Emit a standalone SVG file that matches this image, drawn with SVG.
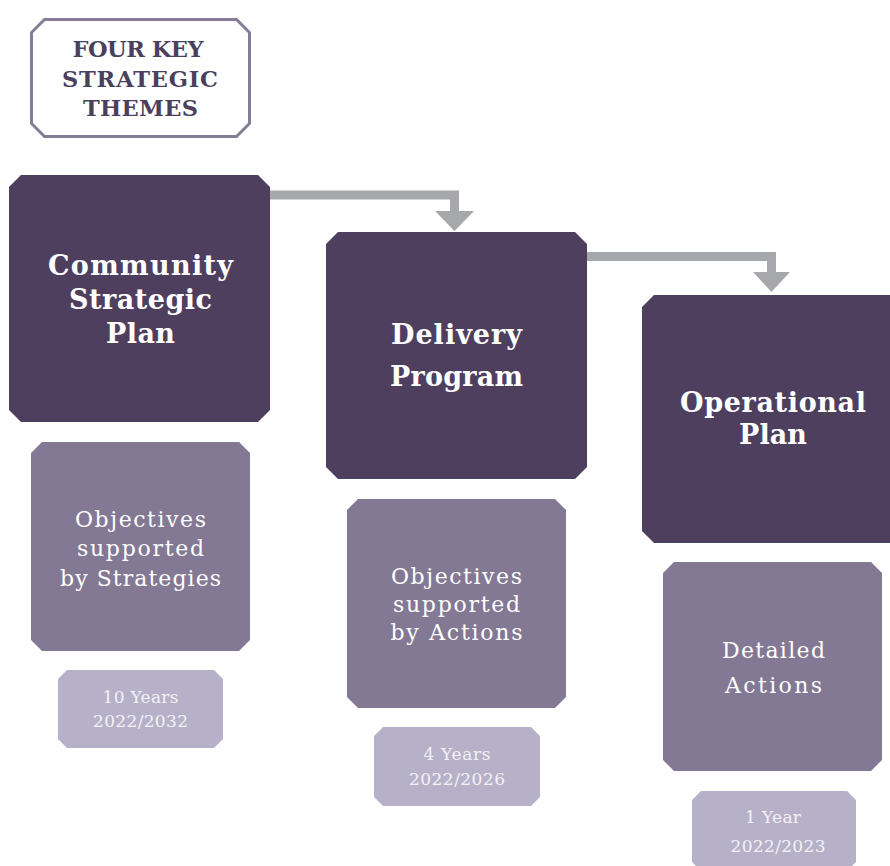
<svg xmlns="http://www.w3.org/2000/svg" width="890" height="866" viewBox="0 0 890 866">
<style>
.dark{fill:#4e3f5f}
.mid{fill:#837994}
.light{fill:#b6b1c8}
.h{font-family:"DejaVu Serif",serif;font-weight:bold;fill:#ffffff;text-anchor:middle;font-size:27px}
.t{font-family:"DejaVu Serif",serif;font-weight:bold;fill:#4b3f5e;text-anchor:middle;font-size:22.5px}
.b{font-family:"DejaVu Serif",serif;fill:#ffffff;text-anchor:middle;font-size:22px}
.y{font-family:"DejaVu Serif",serif;fill:#f3f1f7;text-anchor:middle;font-size:17px}
.conn{fill:none;stroke:#a7a8ab;stroke-width:9}
.head{fill:#a7a8ab}
</style>
<rect width="890" height="866" fill="#ffffff"/>
<g id="connectors">
  <polyline class="conn" points="270,195 454.5,195 454.5,212"/>
  <polygon class="head" points="435,211 474,211 454.5,231"/>
  <polyline class="conn" points="587,256.5 771.5,256.5 771.5,273"/>
  <polygon class="head" points="753,272 790,272 771.5,292"/>
</g>
<g id="themes">
  <polygon points="44.5,19.5 236.5,19.5 249.5,32.5 249.5,123.5 236.5,136.5 44.5,136.5 31.5,123.5 31.5,32.5" fill="#ffffff" stroke="#857c98" stroke-width="3"/>
  <text class="t" x="138" y="57" textLength="131">FOUR KEY</text>
  <text class="t" x="140" y="87" textLength="156">STRATEGIC</text>
  <text class="t" x="140.5" y="116" textLength="115">THEMES</text>
</g>
<g id="csp">
  <polygon class="dark" points="21,175 258,175 270,187 270,410 258,422 21,422 9,410 9,187"/>
  <text class="h" x="140.5" y="275" textLength="185">Community</text>
  <text class="h" x="140.5" y="309" textLength="143">Strategic</text>
  <text class="h" x="140.5" y="343" textLength="69">Plan</text>
</g>
<g id="delivery">
  <polygon class="dark" points="338,232 575,232 587,244 587,467 575,479 338,479 326,467 326,244"/>
  <text class="h" x="456.5" y="344" textLength="131">Delivery</text>
  <text class="h" x="456.5" y="386" textLength="133">Program</text>
</g>
<g id="operational">
  <polygon class="dark" points="654,295 895,295 895,543 654,543 642,531 642,307"/>
  <text class="h" x="773" y="412" textLength="186">Operational</text>
  <text class="h" x="773" y="444" textLength="68">Plan</text>
</g>
<g id="obj-strategies">
  <polygon class="mid" points="42,442 239,442 250,453 250,640 239,651 42,651 31,640 31,453"/>
  <text class="b" x="140.5" y="527" textLength="131">Objectives</text>
  <text class="b" x="140.5" y="556" textLength="127">supported</text>
  <text class="b" x="140.5" y="586" textLength="161">by Strategies</text>
</g>
<g id="obj-actions">
  <polygon class="mid" points="358,499 555,499 566,510 566,697 555,708 358,708 347,697 347,510"/>
  <text class="b" x="456.5" y="584" textLength="131">Objectives</text>
  <text class="b" x="456.5" y="612" textLength="127">supported</text>
  <text class="b" x="456.5" y="640" textLength="132">by Actions</text>
</g>
<g id="detailed">
  <polygon class="mid" points="674,562 871,562 882,573 882,760 871,771 674,771 663,760 663,573"/>
  <text class="b" x="773.5" y="658" textLength="103">Detailed</text>
  <text class="b" x="773.5" y="693" textLength="97">Actions</text>
</g>
<g id="years-10">
  <polygon class="light" points="67,670 214,670 223,679 223,739 214,748 67,748 58,739 58,679"/>
  <text class="y" x="140.5" y="703" textLength="76">10 Years</text>
  <text class="y" x="140.5" y="727" textLength="95">2022/2032</text>
</g>
<g id="years-4">
  <polygon class="light" points="383,727 531,727 540,736 540,797 531,806 383,806 374,797 374,736"/>
  <text class="y" x="457" y="760" textLength="67">4 Years</text>
  <text class="y" x="457" y="785" textLength="96">2022/2026</text>
</g>
<g id="years-1">
  <polygon class="light" points="701,791 847,791 856,800 856,862 852,866 696,866 692,862 692,800"/>
  <text class="y" x="773" y="823" textLength="56">1 Year</text>
  <text class="y" x="778" y="852" textLength="95">2022/2023</text>
</g>
</svg>
